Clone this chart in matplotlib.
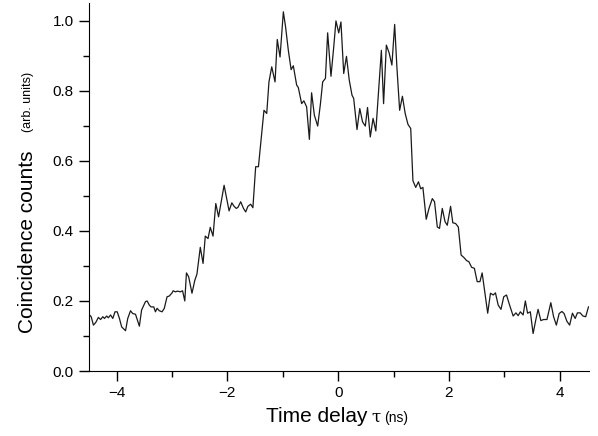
import matplotlib
matplotlib.use("Agg")
import matplotlib.pyplot as plt
from matplotlib.ticker import MultipleLocator

plt.rcParams['font.family'] = ['Liberation Sans', 'DejaVu Sans']

# Time delay (ns) and normalised coincidence counts
tau = [-4.49, -4.46, -4.42, -4.38, -4.33, -4.29, -4.25, -4.22, -4.18, -4.15,
       -4.11, -4.07, -4.03, -3.99, -3.95, -3.91, -3.84, -3.80, -3.75, -3.71,
       -3.66, -3.59, -3.55, -3.48, -3.45, -3.41, -3.38, -3.33, -3.30, -3.27,
       -3.23, -3.18, -3.14, -3.09, -3.05, -3.00, -2.98, -2.94, -2.90, -2.85,
       -2.81, -2.77, -2.74, -2.70, -2.64, -2.59, -2.55, -2.49, -2.44, -2.40,
       -2.35, -2.31, -2.26, -2.21, -2.16, -2.06, -2.02, -1.97, -1.92, -1.88,
       -1.84, -1.81, -1.76, -1.71, -1.67, -1.63, -1.58, -1.54, -1.49, -1.44,
       -1.34, -1.29, -1.25, -1.20, -1.14, -1.10, -1.05, -0.99, -0.95, -0.90,
       -0.85, -0.81, -0.75, -0.72, -0.66, -0.62, -0.57, -0.52, -0.48, -0.43,
       -0.37, -0.32, -0.28, -0.23, -0.19, -0.13, -0.08, -0.04, 0.01, 0.05,
       0.10, 0.15, 0.20, 0.25, 0.28, 0.34, 0.39, 0.44, 0.49, 0.53,
       0.58, 0.63, 0.68, 0.78, 0.82, 0.87, 0.92, 0.97, 1.02, 1.06,
       1.11, 1.16, 1.21, 1.26, 1.31, 1.35, 1.40, 1.45, 1.49, 1.53,
       1.59, 1.64, 1.70, 1.74, 1.79, 1.83, 1.88, 1.93, 1.97, 2.03,
       2.07, 2.12, 2.17, 2.22, 2.27, 2.32, 2.36, 2.41, 2.46, 2.51,
       2.56, 2.60, 2.65, 2.70, 2.75, 2.80, 2.84, 2.89, 2.94, 2.99,
       3.04, 3.09, 3.16, 3.21, 3.25, 3.29, 3.34, 3.38, 3.42, 3.47,
       3.52, 3.57, 3.61, 3.66, 3.71, 3.77, 3.84, 3.89, 3.94, 3.99,
       4.04, 4.08, 4.13, 4.18, 4.23, 4.28, 4.32, 4.37, 4.42, 4.47,
       4.52]
counts = [0.160, 0.155, 0.131, 0.138, 0.153, 0.147, 0.155, 0.150, 0.157, 0.152,
          0.160, 0.150, 0.169, 0.169, 0.150, 0.126, 0.115, 0.150, 0.172, 0.164,
          0.162, 0.128, 0.174, 0.198, 0.200, 0.188, 0.183, 0.183, 0.169, 0.179,
          0.172, 0.169, 0.179, 0.212, 0.214, 0.223, 0.229, 0.226, 0.228, 0.226,
          0.229, 0.200, 0.280, 0.269, 0.222, 0.258, 0.277, 0.353, 0.307, 0.385,
          0.378, 0.410, 0.385, 0.478, 0.440, 0.530, 0.497, 0.457, 0.480, 0.470,
          0.464, 0.467, 0.483, 0.464, 0.454, 0.470, 0.476, 0.466, 0.583, 0.583,
          0.744, 0.735, 0.825, 0.868, 0.825, 0.946, 0.896, 1.025, 0.982, 0.915,
          0.860, 0.871, 0.816, 0.809, 0.763, 0.771, 0.754, 0.661, 0.794, 0.730,
          0.699, 0.763, 0.825, 0.835, 0.965, 0.841, 0.925, 0.999, 0.965, 0.996,
          0.849, 0.898, 0.830, 0.787, 0.778, 0.689, 0.749, 0.711, 0.699, 0.752,
          0.668, 0.721, 0.685, 0.915, 0.763, 0.930, 0.908, 0.873, 0.989, 0.868,
          0.744, 0.784, 0.735, 0.704, 0.692, 0.543, 0.524, 0.540, 0.520, 0.524,
          0.433, 0.464, 0.492, 0.483, 0.411, 0.407, 0.464, 0.426, 0.416, 0.470,
          0.423, 0.421, 0.411, 0.331, 0.324, 0.315, 0.312, 0.296, 0.293, 0.255,
          0.255, 0.280, 0.222, 0.165, 0.222, 0.217, 0.223, 0.188, 0.176, 0.212,
          0.217, 0.191, 0.157, 0.166, 0.158, 0.169, 0.160, 0.200, 0.165, 0.169,
          0.107, 0.147, 0.176, 0.144, 0.147, 0.147, 0.195, 0.155, 0.131, 0.164,
          0.170, 0.164, 0.142, 0.131, 0.165, 0.150, 0.166, 0.166, 0.157, 0.155,
          0.183]

fig = plt.figure(figsize=(5.98, 4.36), dpi=100)
ax = fig.add_axes([0.1488, 0.149, 0.8362, 0.844])

ax.plot(tau, counts, color='#1a1a1a', lw=0.9)

ax.set_xlim(-4.5, 4.53)
ax.set_ylim(0, 1.05)
ax.spines['top'].set_visible(False)
ax.spines['right'].set_visible(False)
ax.xaxis.set_major_locator(MultipleLocator(2))
ax.xaxis.set_minor_locator(MultipleLocator(1))
ax.yaxis.set_major_locator(MultipleLocator(0.2))
ax.yaxis.set_minor_locator(MultipleLocator(0.1))
ax.xaxis.set_major_formatter(plt.FuncFormatter(lambda v, p: f"{v:.0f}".replace('-', '\u2212')))
ax.yaxis.set_major_formatter(plt.FuncFormatter(lambda v, p: f"{v:.1f}"))
ax.tick_params(which='major', direction='out', length=7, width=1, labelsize=11, pad=4)
ax.tick_params(which='minor', direction='out', length=4, width=1)

# axis titles, built from pieces of different sizes
fig.text(33 / 598, 1 - 333 / 436, "Coincidence counts", rotation=90, rotation_mode='anchor',
         ha='left', va='baseline', fontsize=15)
fig.text(31 / 598, 1 - 132 / 436, "(arb. units)", rotation=90, rotation_mode='anchor',
         ha='left', va='baseline', fontsize=9)
fig.text(266 / 598, 1 - 422 / 436, "Time delay", ha='left', va='baseline', fontsize=15)
fig.text(371 / 598, 1 - 422 / 436, "\u03c4", ha='left', va='baseline', fontsize=12,
         family='DejaVu Serif')
fig.text(384 / 598, 1 - 422 / 436, "(ns)", ha='left', va='baseline', fontsize=10)

fig.savefig("out.png", dpi=100)
